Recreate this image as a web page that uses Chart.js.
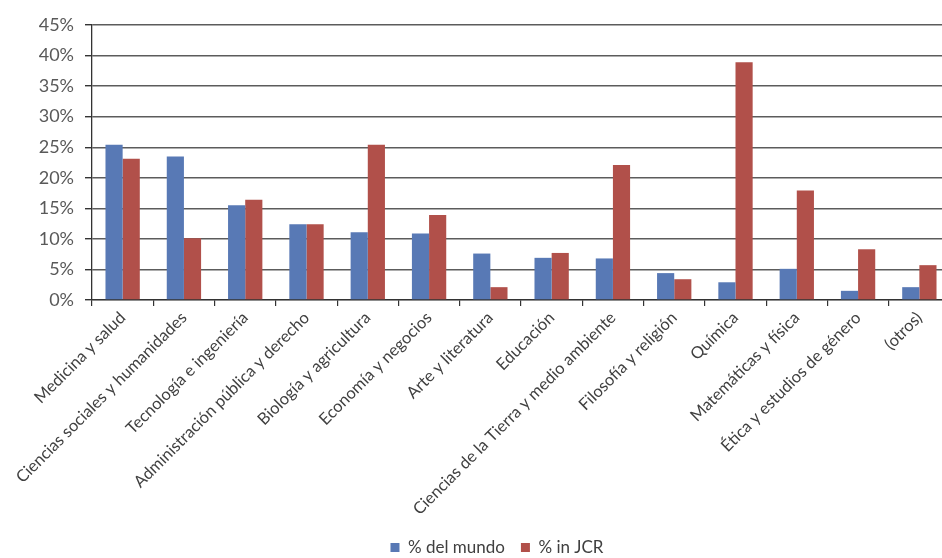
<!DOCTYPE html>
<html>
<head>
<meta charset="utf-8">
<script src="https://cdn.jsdelivr.net/npm/chart.js@4/dist/chart.umd.min.js"></script>
<style>
  html, body { margin: 0; padding: 0; background: #ffffff; overflow: hidden; }
  #wrap { width: 942px; height: 558px; overflow: hidden; position: relative; }
  canvas { display: block; }
</style>
</head>
<body>
<div id="wrap"><canvas id="chart" width="960" height="558"></canvas></div>
<script>
// Subject areas
const categories = [
  'Medicina y salud',
  'Ciencias sociales y humanidades',
  'Tecnología e ingeniería',
  'Administración pública y derecho',
  'Biología y agricultura',
  'Economía y negocios',
  'Arte y literatura',
  'Educación',
  'Ciencias de la Tierra y medio ambiente',
  'Filosofía y religión',
  'Química',
  'Matemáticas y física',
  'Ética y estudios de género',
  '(otros)'
];

// Share of journals per area (%)
const delMundo = [25.4, 23.5, 15.5, 12.4, 11.1, 10.9, 7.6, 6.9, 6.8, 4.4, 2.9, 5.1, 1.5, 2.1];
const inJCR    = [23.1, 10.1, 16.4, 12.4, 25.4, 13.9, 2.1, 7.7, 22.1, 3.4, 38.9, 17.9, 8.3, 5.7];

const seriesNames = ['% del mundo', '% in JCR'];
const yTicks = [0, 5, 10, 15, 20, 25, 30, 35, 40, 45];

// Places the bottom legend under the visible part of the plot
const legendShift = {
  id: 'legendShift',
  afterLayout(chart) {
    const lg = chart.legend;
    if (!lg) return;
    const dx = 22;
    const dy = 523 - lg.top;
    lg.left += dx;
    lg.right += dx;
    lg.top += dy;
    lg.bottom = chart.height;
    lg.height = lg.bottom - lg.top;
    if (lg.legendHitBoxes) lg.legendHitBoxes.forEach(b => { b.left += dx; b.top += dy; });
  }
};

new Chart(document.getElementById('chart'), {
  type: 'bar',
  data: {
    labels: categories,
    datasets: [
      { label: seriesNames[0], data: delMundo, backgroundColor: '#5879b5' },
      { label: seriesNames[1], data: inJCR, backgroundColor: '#b1504a' }
    ]
  },
  options: {
    responsive: false,
    animation: false,
    devicePixelRatio: 1,
    layout: { padding: { top: 25, right: 10, left: 0, bottom: 0 } },
    datasets: { bar: { categoryPercentage: 0.56, barPercentage: 1.0 } },
    plugins: {
      tooltip: { enabled: false },
      legend: {
        position: 'bottom',
        maxHeight: 36,
        labels: {
          font: { family: 'Lato', size: 17 },
          color: '#404040',
          boxWidth: 9,
          boxHeight: 9,
          padding: 16
        }
      }
    },
    scales: {
      x: {
        offset: true,
        grid: {
          offset: true,
          drawOnChartArea: false,
          drawTicks: true,
          tickLength: 6,
          tickColor: '#333333',
          lineWidth: 1.2
        },
        border: { display: true, color: '#333333', width: 1.3 },
        ticks: {
          autoSkip: false,
          maxRotation: 45,
          minRotation: 45,
          padding: 2,
          color: '#404040',
          font: { family: 'Lato', size: 16.5 }
        },
        afterFit(scale) { scale.height = 222; }
      },
      y: {
        min: 0,
        max: 45,
        afterBuildTicks(scale) { scale.ticks = yTicks.map(v => ({ value: v })); },
        afterFit(scale) { scale.width = 92; },
        grid: {
          color: '#5c5c5c',
          lineWidth: 1.4,
          drawTicks: true,
          tickLength: 7,
          tickColor: '#333333'
        },
        border: { display: true, color: '#333333', width: 1.3 },
        ticks: {
          padding: 11,
          color: '#595959',
          font: { family: 'Lato', size: 18 },
          callback: v => v + '%'
        }
      }
    }
  },
  plugins: [legendShift]
});
</script>
</body>
</html>
